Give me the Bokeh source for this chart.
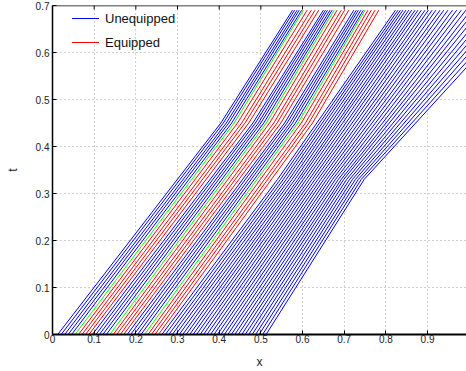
from bokeh.plotting import figure
from bokeh.models import Range1d, FixedTicker, Span
from bokeh.embed import file_html
from bokeh.resources import INLINE

# vehicle type of each trajectory (U = unequipped, G = marked, E = equipped)
kinds = ["U", "U", "U", "U", "U", "G", "E", "E", "E", "E",
         "U", "U", "U", "U", "U", "G", "E", "E", "E", "E",
         "U", "U", "U", "U", "U", "G", "E", "E", "E", "E",
         "U", "U", "U", "U", "U", "U", "U", "U", "U", "U",
         "U", "U", "U", "U", "U", "U", "U", "U", "U", "U",
         "U", "U", "U", "U", "U", "U", "U", "U", "U", "U", "U"]

# positions at t = 0
x_start = [0.0125, 0.0208, 0.0292, 0.0375, 0.0458, 0.0542, 0.0625, 0.0708, 0.0792, 0.0875,
           0.0958, 0.1042, 0.1125, 0.1208, 0.1292, 0.1375, 0.1458, 0.1542, 0.1625, 0.1708,
           0.1792, 0.1875, 0.1958, 0.2042, 0.2125, 0.2208, 0.2292, 0.2375, 0.2458, 0.2542,
           0.2625, 0.2708, 0.2792, 0.2875, 0.2958, 0.3042, 0.3125, 0.3208, 0.3292, 0.3375,
           0.3458, 0.3542, 0.3625, 0.3708, 0.3792, 0.3875, 0.3958, 0.4042, 0.4125, 0.4208,
           0.4292, 0.4375, 0.4458, 0.4542, 0.4625, 0.4708, 0.4792, 0.4875, 0.4958, 0.5042, 0.5125]

# time of the intermediate break point of each trajectory
t_mid = [0.45] * 30 + [0.33] * 31

# positions at the intermediate break point
x_mid = [0.404, 0.410, 0.417, 0.423, 0.430, 0.436, 0.444, 0.454, 0.462, 0.471,
         0.481, 0.487, 0.494, 0.500, 0.507, 0.513, 0.521, 0.531, 0.539, 0.548,
         0.557, 0.563, 0.570, 0.576, 0.583, 0.589, 0.597, 0.607, 0.615, 0.624,
         0.540, 0.547, 0.554, 0.561, 0.568, 0.575, 0.582, 0.589, 0.595, 0.602,
         0.609, 0.616, 0.623, 0.630, 0.637, 0.644, 0.651, 0.658, 0.665, 0.672,
         0.679, 0.686, 0.693, 0.699, 0.706, 0.713, 0.720, 0.727, 0.734, 0.741, 0.748]

# end time and end positions
t_end = 0.69
x_end = [0.576, 0.581, 0.587, 0.592, 0.598, 0.602, 0.611, 0.621, 0.630, 0.639,
         0.650, 0.655, 0.660, 0.666, 0.671, 0.676, 0.683, 0.693, 0.701, 0.711,
         0.723, 0.729, 0.734, 0.740, 0.746, 0.750, 0.757, 0.765, 0.774, 0.783,
         0.823, 0.829, 0.835, 0.841, 0.848, 0.855, 0.862, 0.870, 0.877, 0.885,
         0.894, 0.902, 0.911, 0.920, 0.930, 0.939, 0.949, 0.960, 0.970, 0.981,
         0.992, 1.004, 1.015, 1.027, 1.040, 1.052, 1.065, 1.078, 1.091, 1.105, 1.119]

x_ticks = [0, 0.1, 0.2, 0.3, 0.4, 0.5, 0.6, 0.7, 0.8, 0.9]
x_tick_labels = ["0", "0.1", "0.2", "0.3", "0.4", "0.5", "0.6", "0.7", "0.8", "0.9"]
y_ticks = [0, 0.1, 0.2, 0.3, 0.4, 0.5, 0.6, 0.7]
y_tick_labels = ["0", "0.1", "0.2", "0.3", "0.4", "0.5", "0.6", "0.7"]

series = {"U": ("#0000ff", "Unequipped"), "E": ("#ff0000", "Equipped"), "G": ("#00ff00", None)}

FONT = "Liberation Sans"
T_TOP = 0.7
TICK_LEN = 0.0085  # inward tick length on the top edge (data units of t)

p = figure(width=466, height=371, x_range=Range1d(0, 0.9935), y_range=Range1d(0, T_TOP),
           output_backend="svg", toolbar_location=None,
           min_border_left=52, min_border_right=0, min_border_top=5, min_border_bottom=37)
p.outline_line_color = None
p.background_fill_color = "white"
p.border_fill_color = "white"

p.grid.grid_line_color = "#a0a0a0"
p.grid.grid_line_dash = "1 3"
p.grid.grid_line_width = 1
p.xgrid.ticker = FixedTicker(ticks=x_ticks)
p.ygrid.ticker = FixedTicker(ticks=y_ticks)

for i, k in enumerate(kinds):
    color, label = series[k]
    kw = {"legend_label": label} if label else {}
    p.line(x=[x_start[i], x_mid[i], x_end[i]], y=[0.0, t_mid[i], t_end],
           line_color=color, line_width=1, **kw)

# top edge of the box with inward ticks
p.add_layout(Span(location=T_TOP, dimension="width", line_color="black", line_width=1.5))
p.segment(x0=x_ticks, y0=[T_TOP] * len(x_ticks), x1=x_ticks,
          y1=[T_TOP - TICK_LEN] * len(x_ticks), line_color="black", line_width=1)

for ax, ticks, labels in [(p.xaxis[0], x_ticks, x_tick_labels), (p.yaxis[0], y_ticks, y_tick_labels)]:
    ax.ticker = FixedTicker(ticks=ticks)
    ax.major_label_overrides = {t: l for t, l in zip(ticks, labels)}
    ax.major_tick_in = 4
    ax.major_tick_out = 0
    ax.minor_tick_in = 0
    ax.minor_tick_out = 0
    ax.major_label_text_font = FONT
    ax.major_label_text_font_size = "10px"
    ax.major_label_text_color = "#222222"
    ax.axis_label_text_font = FONT
    ax.axis_label_text_font_size = "12px"
    ax.axis_label_text_font_style = "normal"
    ax.axis_label_text_color = "#222222"
    ax.axis_line_color = "black"

p.xaxis.axis_label = "x"
p.xaxis.major_label_standoff = 0
p.xaxis.axis_label_standoff = 9
p.xaxis.axis_line_width = 2
p.yaxis.axis_label = "t"
p.yaxis.major_label_standoff = 3
p.yaxis.axis_label_standoff = 13
p.yaxis.axis_line_width = 1.5

lg = p.legend[0]
lg.location = (20, 282)
lg.padding = 0
lg.spacing = 4
lg.glyph_width = 27
lg.glyph_height = 20
lg.label_height = 20
lg.label_standoff = 6
lg.label_text_font = FONT
lg.label_text_font_size = "13px"
lg.label_text_color = "#111111"
lg.background_fill_alpha = 0
lg.border_line_color = None

open("out.html", "w").write(file_html(p, INLINE))
